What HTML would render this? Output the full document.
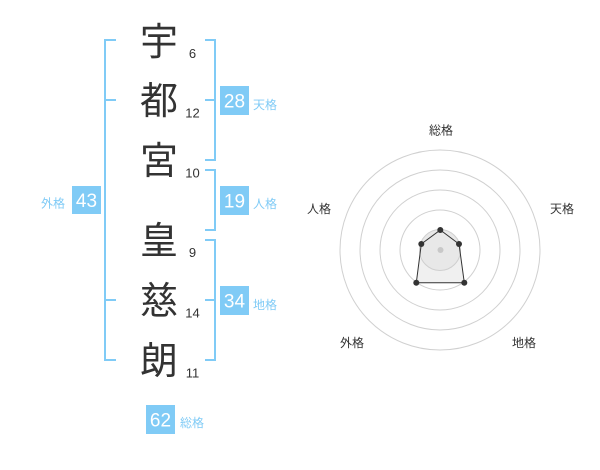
<!DOCTYPE html>
<html><head><meta charset="utf-8"><style>
html,body{margin:0;padding:0;background:#fff;}
svg{display:block;}
</style></head><body>
<svg width="600" height="470" viewBox="0 0 600 470" xmlns="http://www.w3.org/2000/svg">
<g fill="none" stroke="#80cbf6" stroke-width="2">
  <!-- left bracket 外格 -->
  <polyline points="116,40 105,40 105,360 116,360"/>
  <line x1="105" y1="100" x2="116" y2="100"/>
  <line x1="105" y1="300" x2="116" y2="300"/>
  <!-- 天格 -->
  <polyline points="205,40 215,40 215,160 205,160"/>
  <line x1="205" y1="100" x2="215" y2="100"/>
  <!-- 人格 -->
  <polyline points="205,170 215,170 215,230 205,230"/>
  <!-- 地格 -->
  <polyline points="205,240 215,240 215,360 205,360"/>
  <line x1="205" y1="300" x2="215" y2="300"/>
</g>
<g font-family="'Liberation Sans','Noto Sans CJK JP',sans-serif" font-size="38" fill="#333" text-anchor="middle">
  <text x="159" y="55">宇</text>
  <text x="159" y="114">都</text>
  <text x="159" y="174">宮</text>
  <text x="159" y="254">皇</text>
  <text x="159" y="314">慈</text>
  <text x="159" y="374">朗</text>
</g>
<g font-family="'Liberation Sans',sans-serif" font-size="13" fill="#333" text-anchor="middle">
  <text x="192.5" y="58">6</text>
  <text x="192.5" y="117.5">12</text>
  <text x="192.5" y="177.5">10</text>
  <text x="192.5" y="257">9</text>
  <text x="192.5" y="317.5">14</text>
  <text x="192.5" y="377.5">11</text>
</g>
<g fill="#80cbf6">
  <rect x="72" y="186" width="29" height="28"/>
  <rect x="220" y="86" width="29" height="29"/>
  <rect x="220" y="186" width="29" height="29"/>
  <rect x="220" y="286" width="29" height="29"/>
  <rect x="146" y="405" width="29" height="29"/>
</g>
<g font-family="'Liberation Sans',sans-serif" font-size="19" fill="#fff" text-anchor="middle">
  <text x="86.5" y="207">43</text>
  <text x="234.5" y="107.5">28</text>
  <text x="234.5" y="207.5">19</text>
  <text x="234.5" y="307.5">34</text>
  <text x="160.5" y="426.5">62</text>
</g>
<g font-family="'Liberation Sans','Noto Sans CJK JP',sans-serif" font-size="12" fill="#80cbf6">
  <text x="41" y="207.5">外格</text>
  <text x="253" y="109">天格</text>
  <text x="253" y="208">人格</text>
  <text x="253" y="309">地格</text>
  <text x="180" y="427">総格</text>
</g>
<!-- radar -->
<g fill="none" stroke="#d0d0d0" stroke-width="1">
  <circle cx="440" cy="250" r="100"/>
  <circle cx="440" cy="250" r="80"/>
  <circle cx="440" cy="250" r="60"/>
  <circle cx="440" cy="250" r="40"/>
</g>
<polygon points="440.3,230 459,244 464.3,282.7 416.3,282.7 421.3,244" fill="#f0f0f0" stroke="none"/>
<circle cx="440" cy="250" r="20.5" fill="#e8e8e8" stroke="#cfcfcf" stroke-width="1"/>
<polygon points="440.3,230 459,244 464.3,282.7 416.3,282.7 421.3,244" fill="none" stroke="#333" stroke-width="1"/>
<circle cx="440.5" cy="250" r="3" fill="#c8c8c8"/>
<g fill="#333">
  <circle cx="440.3" cy="230" r="3"/>
  <circle cx="459" cy="244" r="3"/>
  <circle cx="464.3" cy="282.7" r="3"/>
  <circle cx="416.3" cy="282.7" r="3"/>
  <circle cx="421.3" cy="244" r="3"/>
</g>
<g font-family="'Liberation Sans','Noto Sans CJK JP',sans-serif" font-size="12" fill="#333" text-anchor="middle">
  <text x="441" y="134.5">総格</text>
  <text x="562" y="212.8">天格</text>
  <text x="319" y="212.8">人格</text>
  <text x="352" y="346.8">外格</text>
  <text x="524" y="346.8">地格</text>
</g>
</svg>
</body></html>
